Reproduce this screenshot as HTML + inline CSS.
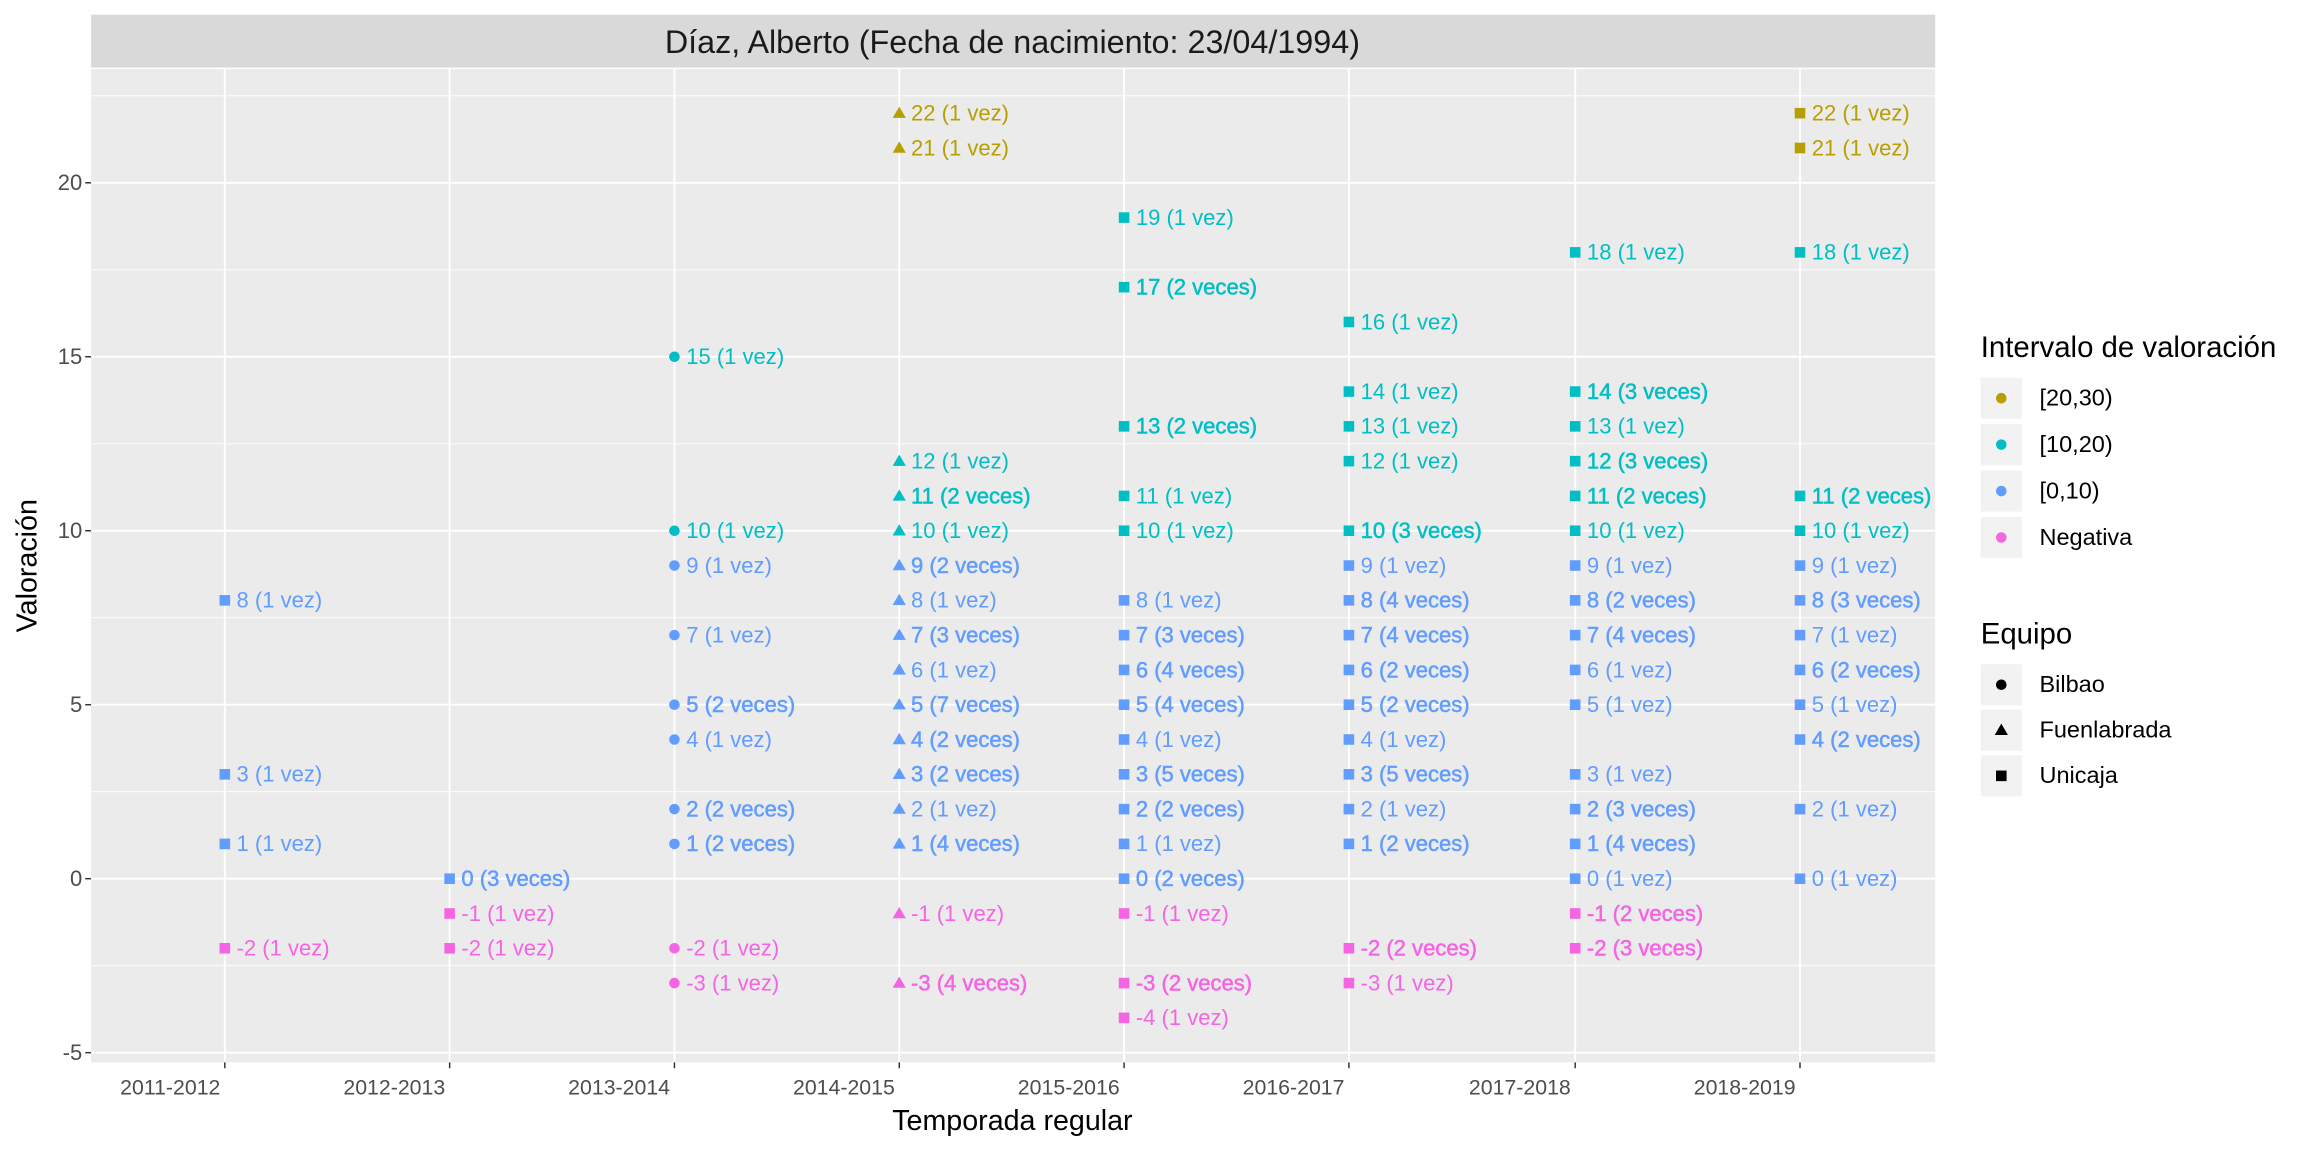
<!DOCTYPE html>
<html><head><meta charset="utf-8">
<style>
html,body{margin:0;padding:0;background:#fff;}
svg{display:block;}
text{font-family:"Liberation Sans",Arial,sans-serif;}
</style></head>
<body>
<svg id="c" xmlns="http://www.w3.org/2000/svg" width="2304" height="1152" viewBox="0 0 1568 784">
<rect x="0" y="0" width="1568" height="784" fill="#fff"/>
<rect x="62" y="47" width="1255" height="676" fill="#EBEBEB"/>
<rect x="62" y="10" width="1255" height="36" fill="#D9D9D9"/>
<text x="689" y="36" font-size="22" text-anchor="middle" fill="#1A1A1A">Díaz, Alberto (Fecha de nacimiento: 23/04/1994)</text>
<g id="grid"></g>
<g id="pts"></g>
<g id="axes" fill="#4D4D4D"></g>
<text x="689" y="769" font-size="19.5" text-anchor="middle" fill="#000">Temporada regular</text>
<text transform="translate(25,385) rotate(-90)" font-size="19.5" text-anchor="middle" fill="#000">Valoración</text>
<g id="legend"></g>
</svg>
<script>
const NS="http://www.w3.org/2000/svg";
function el(p,t,a,txt){const e=document.createElementNS(NS,t);for(const k in a)e.setAttribute(k,a[k]);if(txt!==undefined)e.textContent=txt;p.appendChild(e);return e;}
const Y=v=>598-23.68*v;
const xs=[153,306,459,612,765,918,1072,1225];
const seasons=["2011-2012","2012-2013","2013-2014","2014-2015","2015-2016","2016-2017","2017-2018","2018-2019"];
const g=document.getElementById('grid');
for(let v=-7.5;v<=22.5;v+=5){const y=Y(v);if(y>47&&y<723)el(g,'line',{x1:62,x2:1317,y1:y,y2:y,stroke:'#fff','stroke-width':0.6});}
for(let v=-5;v<=20;v+=5){el(g,'line',{x1:62,x2:1317,y1:Y(v),y2:Y(v),stroke:'#fff','stroke-width':1.3});}
xs.forEach(x=>el(g,'line',{x1:x,x2:x,y1:47,y2:723,stroke:'#fff','stroke-width':1.3}));
const ax=document.getElementById('axes');
for(let v=-5;v<=20;v+=5){el(ax,'text',{x:56,y:Y(v)+5,'text-anchor':'end','font-size':15},String(v));el(ax,'line',{x1:58,x2:62,y1:Y(v),y2:Y(v),stroke:'#333','stroke-width':1});}
xs.forEach((x,i)=>{el(ax,'text',{x:x-3,y:745,'text-anchor':'end','font-size':14.5},seasons[i]);el(ax,'line',{x1:x,x2:x,y1:723,y2:727,stroke:'#333','stroke-width':1});});
const col=v=>v>=20?'#B79F00':v>=10?'#00BFC4':v>=0?'#619CFF':'#F564E3';
function shape(p,s,x,y,c){
 if(s==='c')el(p,'circle',{cx:x,cy:y,r:3.6,fill:c});
 else if(s==='t')el(p,'polygon',{points:`${x},${y-4.5} ${x+4.5},${y+3.2} ${x-4.5},${y+3.2}`,fill:c});
 else el(p,'rect',{x:x-3.6,y:y-3.6,width:7.2,height:7.2,fill:c});
}
const data=[
 ['s',{8:1,3:1,1:1,'-2':1}],
 ['s',{0:3,'-1':1,'-2':1}],
 ['c',{15:1,10:1,9:1,7:1,5:2,4:1,2:2,1:2,'-2':1,'-3':1}],
 ['t',{22:1,21:1,12:1,11:2,10:1,9:2,8:1,7:3,6:1,5:7,4:2,3:2,2:1,1:4,'-1':1,'-3':4}],
 ['s',{19:1,17:2,13:2,11:1,10:1,8:1,7:3,6:4,5:4,4:1,3:5,2:2,1:1,0:2,'-1':1,'-3':2,'-4':1}],
 ['s',{16:1,14:1,13:1,12:1,10:3,9:1,8:4,7:4,6:2,5:2,4:1,3:5,2:1,1:2,'-2':2,'-3':1}],
 ['s',{18:1,14:3,13:1,12:3,11:2,10:1,9:1,8:2,7:4,6:1,5:1,3:1,2:3,1:4,0:1,'-1':2,'-2':3}],
 ['s',{22:1,21:1,18:1,11:2,10:1,9:1,8:3,7:1,6:2,5:1,4:2,2:1,0:1}]
];
const P=document.getElementById('pts');
data.forEach(([s,d],i)=>{const x=xs[i];for(const k in d){const v=+k,n=d[k],y=Y(v),c=col(v);
 shape(P,s,x,y,c);
 const t=el(P,'text',{x:x+8,y:y+5,'font-size':15,fill:c},`${v} (${n} ${n===1?'vez':'veces'})`);
 if(n>1){t.setAttribute('stroke',c);t.setAttribute('stroke-width',0.35);}
}});
const L=document.getElementById('legend');
el(L,'text',{x:1348,y:243,'font-size':20,fill:'#000'},'Intervalo de valoración');
[['[20,30)','#B79F00'],['[10,20)','#00BFC4'],['[0,10)','#619CFF'],['Negativa','#F564E3']].forEach(([l,c],i)=>{
 const y=271+i*31.6;el(L,'rect',{x:1348,y:y-14,width:28,height:28,fill:'#F2F2F2'});
 el(L,'circle',{cx:1362,cy:y,r:3.6,fill:c});
 el(L,'text',{x:1388,y:y+5,'font-size':16,fill:'#000'},l);});
el(L,'text',{x:1348,y:438,'font-size':20,fill:'#000'},'Equipo');
[['Bilbao','c'],['Fuenlabrada','t'],['Unicaja','s']].forEach(([l,s],i)=>{
 const y=466+i*31;el(L,'rect',{x:1348,y:y-14,width:28,height:28,fill:'#F2F2F2'});
 shape(L,s,1362,y,'#000');
 el(L,'text',{x:1388,y:y+5,'font-size':16,fill:'#000'},l);});
</script>
</body></html>
